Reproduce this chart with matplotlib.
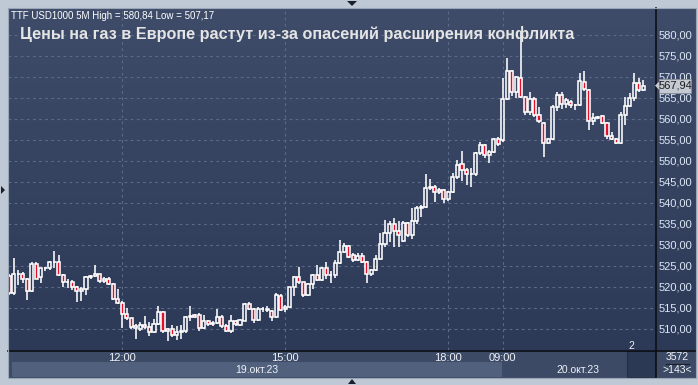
import numpy as np
import matplotlib
matplotlib.use("Agg")
import matplotlib.pyplot as plt
from matplotlib.patches import Rectangle, Polygon
from matplotlib.colors import LinearSegmentedColormap

# 5-minute candles, 19.10.23 09:55 .. 20.10.23 11:35 (TTF, USD1000)
opens = [522.5, 518.5, 523.0, 523.2, 522.0, 519.1, 525.5, 522.3, 524.4, 524.4,
         525.9, 526.0, 522.9, 521.1, 521.3, 520.1, 519.1, 519.4, 522.3, 522.6,
         523.0, 521.4, 522.0, 520.7, 517.1, 516.3, 513.5, 512.5, 510.2, 510.0,
         511.0, 510.5, 509.2, 511.3, 514.0, 509.9, 510.0, 508.5, 509.3, 509.6,
         512.9, 513.3, 513.3, 510.2, 511.9, 511.2, 511.4, 512.9, 510.6, 509.6,
         511.9, 510.9, 512.0, 516.0, 514.7, 512.1, 514.7, 514.6, 514.3, 512.9,
         517.9, 514.7, 515.2, 519.9, 522.3, 521.1, 518.0, 520.6, 522.8, 521.7,
         524.4, 522.8, 522.8, 525.6, 528.4, 529.8, 527.5, 526.4, 527.4, 525.9,
         523.1, 524.0, 526.6, 530.2, 532.8, 535.0, 533.4, 531.0, 535.3, 532.3,
         535.7, 538.7, 539.1, 543.5, 543.7, 542.6, 543.2, 540.9, 542.6, 546.1,
         549.3, 547.9, 546.8, 546.8, 551.8, 553.8, 551.4, 552.1, 555.2, 555.0,
         564.7, 571.3, 566.5, 569.7, 565.3, 561.7, 564.7, 561.0, 559.1, 554.2,
         555.2, 562.8, 565.7, 563.6, 564.1, 563.3, 563.3, 568.9, 566.9, 559.5,
         560.3, 560.6, 559.0, 556.0, 555.2, 554.2, 561.0, 563.0, 564.9, 568.5,
         566.9]
highs = [523.0, 527.0, 524.0, 523.5, 522.2, 526.0, 525.9, 524.5, 524.8, 526.2,
         528.6, 527.6, 523.1, 522.0, 521.7, 520.3, 520.0, 522.6, 522.9, 525.2,
         523.2, 522.4, 522.3, 520.9, 519.6, 516.6, 515.1, 512.7, 511.1, 511.7,
         513.2, 511.7, 512.3, 515.5, 514.2, 510.2, 511.0, 510.6, 511.0, 513.2,
         515.5, 513.5, 513.7, 513.4, 512.2, 512.0, 514.8, 513.4, 511.2, 513.3,
         512.2, 512.3, 516.2, 516.5, 515.0, 515.2, 515.2, 515.4, 514.5, 518.5,
         518.4, 515.8, 520.0, 522.5, 524.8, 521.3, 521.0, 523.2, 525.2, 524.8,
         525.9, 523.7, 526.4, 531.3, 530.4, 530.1, 528.0, 528.0, 528.0, 526.1,
         524.3, 527.6, 532.9, 536.0, 535.6, 536.3, 535.6, 535.6, 535.5, 538.7,
         539.3, 539.5, 546.9, 545.6, 544.3, 543.6, 543.4, 542.8, 547.1, 550.2,
         552.4, 548.4, 548.2, 552.2, 554.4, 554.0, 552.6, 555.5, 555.8, 569.7,
         574.4, 571.7, 570.2, 580.84, 565.5, 566.3, 565.3, 562.9, 559.3, 555.5,
         563.3, 566.3, 566.3, 564.9, 564.4, 563.5, 570.9, 571.4, 567.1, 561.3,
         560.8, 560.9, 559.2, 557.0, 555.4, 561.7, 565.3, 566.1, 570.9, 569.7,
         569.2]
lows = [518.2, 518.1, 520.5, 521.0, 517.0, 518.8, 521.8, 521.0, 523.9, 524.0,
        524.5, 522.5, 520.0, 519.8, 519.3, 516.5, 516.6, 518.0, 522.0, 522.3,
        521.0, 521.0, 520.4, 516.8, 516.0, 510.2, 512.2, 510.0, 507.6, 509.5,
        510.0, 508.4, 509.0, 511.0, 509.0, 507.17, 508.0, 507.3, 507.6, 509.0,
        512.0, 512.5, 509.6, 510.0, 510.6, 510.8, 511.2, 510.2, 509.4, 509.1,
        510.6, 510.7, 511.8, 514.5, 511.5, 511.9, 514.0, 514.0, 512.0, 512.7,
        514.4, 514.1, 515.0, 517.9, 520.8, 517.7, 517.8, 519.6, 521.5, 521.5,
        522.0, 521.0, 522.1, 525.4, 528.2, 526.8, 526.0, 526.2, 525.6, 520.9,
        522.5, 523.8, 526.4, 529.5, 530.8, 529.6, 529.6, 530.6, 532.0, 531.5,
        535.0, 536.6, 538.9, 543.0, 540.2, 542.2, 539.9, 540.5, 542.3, 545.8,
        545.3, 544.3, 543.7, 546.5, 551.5, 550.8, 549.4, 551.8, 553.6, 554.6,
        564.5, 565.5, 565.0, 565.0, 561.0, 561.0, 560.5, 559.0, 550.9, 554.0,
        555.0, 561.9, 562.3, 562.5, 562.7, 562.2, 563.1, 566.7, 557.4, 558.5,
        560.0, 558.7, 555.2, 555.0, 554.0, 554.0, 558.5, 562.8, 564.2, 566.5,
        566.6]
closes = [518.5, 523.0, 523.2, 522.0, 519.1, 525.5, 522.0, 524.4, 524.6, 525.9,
          526.0, 522.9, 521.1, 521.3, 520.1, 519.1, 519.4, 522.3, 522.6, 523.0,
          521.4, 522.0, 520.7, 517.1, 516.3, 513.5, 512.5, 510.4, 510.6, 511.0,
          510.5, 509.2, 511.3, 514.0, 509.6, 509.6, 508.5, 509.3, 509.6, 512.9,
          513.0, 512.9, 510.2, 511.9, 511.1, 511.4, 512.9, 510.6, 509.6, 511.9,
          511.1, 512.1, 516.0, 514.7, 512.1, 514.7, 514.8, 514.6, 512.9, 518.1,
          514.6, 515.2, 519.9, 522.3, 521.1, 518.1, 520.6, 522.8, 521.7, 524.4,
          522.8, 522.9, 525.6, 528.4, 529.8, 527.2, 526.4, 527.4, 525.9, 523.1,
          524.0, 526.6, 530.2, 532.8, 535.0, 533.4, 532.3, 535.3, 532.3, 535.7,
          538.7, 539.1, 543.5, 543.7, 542.6, 543.2, 540.9, 542.6, 546.1, 549.0,
          547.9, 546.8, 547.0, 551.8, 553.8, 551.4, 552.1, 555.2, 554.0, 564.7,
          571.3, 566.5, 569.9, 565.3, 561.7, 564.7, 561.0, 559.4, 554.2, 555.2,
          562.8, 565.7, 563.6, 564.4, 563.3, 563.4, 569.1, 567.1, 559.5, 560.3,
          560.4, 559.0, 556.0, 555.2, 554.2, 561.0, 563.0, 564.9, 568.5, 566.9,
          567.94]

time_ticks = [25, 61, 97, 109]
time_labels = ["12:00", "15:00", "18:00", "09:00"]
price_ticks = list(range(510, 585, 5))
title = "Цены на газ в Европе растут из-за опасений расширения конфликта"
header = "TTF USD1000 5M High = 580,84 Low = 507,17"
last_price = closes[-1]

W, H = 698, 385
plt.rcParams["font.family"] = ["Liberation Sans", "DejaVu Sans"]

fig = plt.figure(figsize=(W / 100, H / 100), dpi=100)
fig.patch.set_facecolor("#bfc9d6")


def box(x, y, w, h, **kw):
    # rectangle in pixel coords (top-left origin)
    r = Rectangle((x / W, 1 - (y + h) / H), w / W, h / H,
                  transform=fig.transFigure, **kw)
    fig.add_artist(r)
    return r


def ftext(x, y, s, **kw):
    return fig.text(x / W, 1 - y / H, s, **kw)


def tri(pts, color="#1a1f2a", z=1):
    p = Polygon([(x / W, 1 - y / H) for x, y in pts], closed=True,
                transform=fig.transFigure, color=color, lw=0, zorder=z)
    fig.add_artist(p)


grad = LinearSegmentedColormap.from_list("bg", ["#3e4c6a", "#2c3957"])
ymin, ymax = 505.0, 586.4
xmin, xmax = -0.22, 142.6

# right price panel
axr = fig.add_axes([655 / W, 1 - 350 / H, 41 / W, 342 / H])
axr.imshow(np.linspace(0, 1, 256).reshape(-1, 1), cmap=grad, aspect="auto",
           extent=[0, 1, ymin, ymax])
axr.set_xlim(0, 1)
axr.set_ylim(ymin, ymax)
axr.axis("off")

ax = fig.add_axes([8 / W, 1 - 350 / H, 647 / W, 342 / H])
ax.imshow(np.linspace(0, 1, 256).reshape(-1, 1), cmap=grad, aspect="auto",
          extent=[xmin, xmax, ymin, ymax], zorder=0)
ax.set_xlim(xmin, xmax)
ax.set_ylim(ymin, ymax)

# candles
x = np.arange(len(closes))
o = np.array(opens)
c = np.array(closes)
hi = np.array(highs)
lo = np.array(lows)
top = np.maximum(o, c)
bot = np.minimum(o, c)
ax.vlines(x, top, hi, color="white", lw=1.15, zorder=3)
ax.vlines(x, lo, bot, color="white", lw=1.15, zorder=3)
down = c < o
fcols = np.where(down, "#e3102b", "none")
ax.bar(x, np.maximum(top - bot, 0.05), bottom=bot, width=0.68,
       facecolor=fcols, edgecolor="white", linewidth=1.15, zorder=4)

ax.set_yticks(price_ticks)
ax.set_yticklabels([f"{v:.2f}".replace(".", ",") for v in price_ticks])
ax.yaxis.tick_right()
ax.set_xticks(time_ticks)
ax.set_xticklabels(time_labels)
ax.tick_params(axis="y", length=0, pad=2.5, labelsize=8, labelcolor="#dde8f6")
ax.tick_params(axis="x", length=0, pad=2.5, labelsize=8, labelcolor="#eef2f8")
ax.grid(True, color="#5b6a86", lw=0.8, ls=(0, (2.5, 3)), zorder=1)
ax.set_axisbelow(True)
for s in ax.spines.values():
    s.set_visible(False)

ax.text(0.005, 0.992, header, transform=ax.transAxes, fontsize=7,
        color="white", va="top", ha="left", zorder=6)
ax.text(0.019, 0.925, title, transform=ax.transAxes, fontsize=11.7,
        fontweight="bold", color="#e4e4e4", va="center", ha="left", zorder=6)

# bottom time axis panel
box(8, 350, 688, 28, facecolor="#3c4a66", lw=0, zorder=-2)
box(12, 362, 490, 15, facecolor="#51617d", lw=0, zorder=-1)
box(627, 351, 28, 26, facecolor="#2c3955", edgecolor="#22293a", lw=0.6)
box(655, 350, 41, 28, facecolor="#3c4a66", lw=0, zorder=-1)
ftext(257, 370, "19.окт.23", fontsize=7.5, color="#eef2f8", ha="center", va="center")
ftext(578, 370, "20.окт.23", fontsize=7.5, color="#eef2f8", ha="center", va="center")
ftext(631, 346, "2", fontsize=7.5, color="#eef2f8", ha="center", va="center", zorder=7)
ftext(677, 357, "3572", fontsize=7.5, color="#eef2f8", ha="center", va="center")
fig.add_artist(plt.Line2D([666 / W, 689 / W], [1 - 363.5 / H] * 2,
                          transform=fig.transFigure, color="#1a1f2a", lw=0.8))
ftext(677, 370, ">143<", fontsize=7.5, color="#eef2f8", ha="center", va="center")

# separators
fig.add_artist(plt.Line2D([655.5 / W] * 2, [1 - 8 / H, 1 - 378 / H],
                          transform=fig.transFigure, color="#0d0f14", lw=1.2))
fig.add_artist(plt.Line2D([8 / W, 696 / W], [1 - 350.5 / H] * 2,
                          transform=fig.transFigure, color="#0d0f14", lw=1.2))
box(8, 8, 688, 370, facecolor="none", edgecolor="#9aa6b6", lw=0.8, zorder=8)

# last price marker
py = 329 - (last_price - 510) * 4.2
box(659, py - 7, 32, 14, facecolor="#c5c9d1", edgecolor="#8a909a", lw=0.6, zorder=9)
tri([(655, py), (659, py - 4), (659, py + 4)], color="#c5c9d1", z=9)
ftext(675, py, f"{last_price:.2f}".replace(".", ","), fontsize=8,
      color="#1c1c1c", ha="center", va="center", zorder=10)

# little navigation arrows
tri([(347, 1), (357, 1), (352, 6)])
tri([(348, 384), (356, 384), (352, 379)])
tri([(1, 186), (1, 194), (5, 190)])

fig.savefig("out.png", dpi=100, facecolor=fig.get_facecolor())
